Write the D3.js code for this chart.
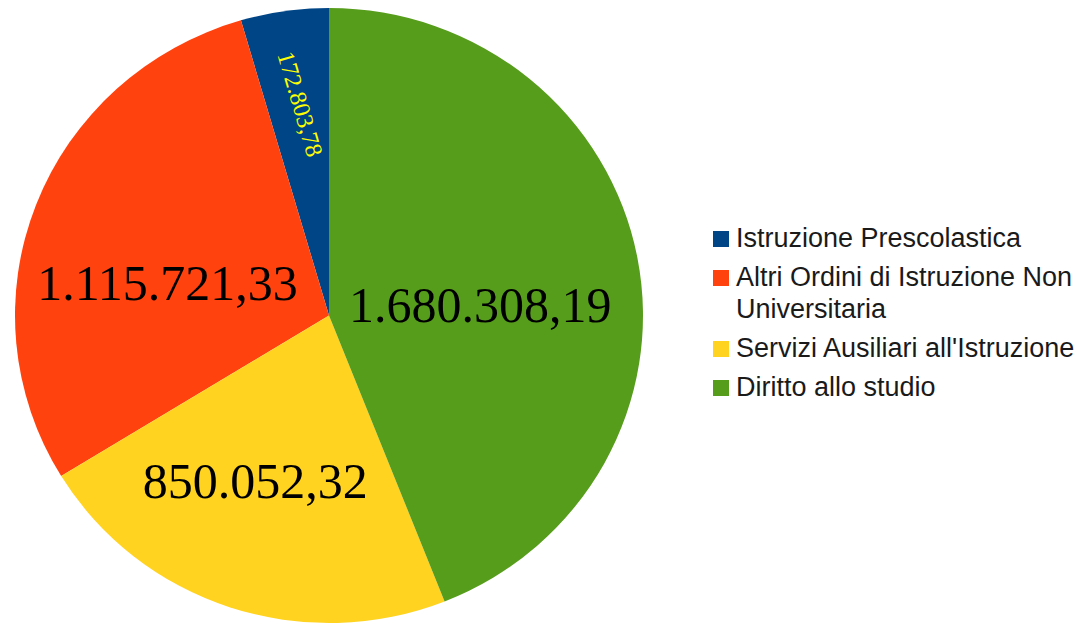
<!DOCTYPE html>
<html>
<head>
<meta charset="utf-8">
<script src="https://cdn.jsdelivr.net/npm/d3@7"></script>
<style>
  html, body { margin: 0; padding: 0; background: #fff; }
  svg { display: block; }
</style>
</head>
<body>
<div id="chart-container"></div>
<script>
const categories = [
  'Istruzione Prescolastica',
  'Altri Ordini di Istruzione Non Universitaria',
  'Servizi Ausiliari all\'Istruzione',
  'Diritto allo studio'
];
const values = [172803.78, 1115721.33, 850052.32, 1680308.19];
const colors = ['#004586', '#ff420e', '#ffd320', '#579d1c'];
// legend text as it wraps in the picture
const legendLines = [
  ['Istruzione Prescolastica'],
  ['Altri Ordini di Istruzione Non', 'Universitaria'],
  ['Servizi Ausiliari all\'Istruzione'],
  ['Diritto allo studio']
];

class PieChart {
  constructor({ containerSelector = '#chart-container' } = {}) {
    this.containerSelector = containerSelector;
    this._sizing = {
      width: 1076,
      height: 624,
      cx: 329,
      cy: 315.5,
      r: 307.5,
      sx: 314 / 307.5 // the pie is a touch wider than tall
    };
    this._styles = {
      labels: { family: '"Liberation Serif", "Times New Roman", serif', size: 50, small: 24 },
      legend: { family: '"Liberation Sans", Arial, sans-serif', size: 27, x: 713, y: 231, box: 16, gap: 39, lineHeight: 32 },
      // small shifts to match where the labels sit
      nudge: [[2, -3], [-15, 4], [-24, 1], [-3, -1]]
    };
    this.init();
    this.render();
  }

  init() {
    const fmt = d3.formatLocale({ decimal: ',', thousands: '.', grouping: [3], currency: ['', ''] }).format(',.2f');
    this._data = categories.map((name, i) => ({ name, value: values[i], color: colors[i], label: fmt(values[i]) }));
    // counter-clockwise from 12 o'clock
    this._arcs = d3.pie().sort(null).value(d => d.value).startAngle(0).endAngle(-2 * Math.PI)(this._data);

    const { width, height } = this._sizing;
    this._svg = d3.select(this.containerSelector).append('svg')
      .attr('width', width)
      .attr('height', height)
      .attr('viewBox', [0, 0, width, height]);
  }

  drawPie() {
    const { cx, cy, r, sx } = this._sizing;
    const arc = d3.arc().innerRadius(0).outerRadius(r);
    this._svg.append('g')
      .attr('transform', `translate(${cx},${cy}) scale(${sx},1)`)
      .selectAll('path')
      .data(this._arcs)
      .join('path')
        .attr('d', arc)
        .attr('fill', d => d.data.color);
  }

  drawLabels() {
    const { cx, cy, r, sx } = this._sizing;
    const { family, size, small } = this._styles.labels;
    const nudge = this._styles.nudge;
    const mid = d3.arc().innerRadius(r / 2).outerRadius(r / 2);
    const outer = d3.arc().innerRadius(r * 0.685).outerRadius(r * 0.685);
    const g = this._svg.append('g').attr('font-family', family);

    g.selectAll('text')
      .data(this._arcs)
      .join('text')
        .each(function(d, i) {
          const t = d3.select(this);
          const [nx, ny] = nudge[i];
          if (Math.abs(d.endAngle - d.startAngle) < 0.5) {
            // thin slice: text runs along the slice edge
            const [x, y] = outer.centroid(d);
            const rot = 90 + d.endAngle * 180 / Math.PI;
            t.attr('transform', `translate(${cx + x * sx + nx},${cy + y + ny}) rotate(${rot})`)
              .attr('text-anchor', 'middle')
              .attr('dy', '0.35em')
              .attr('font-size', small)
              .attr('fill', '#ffff00');
          } else {
            const [x, y] = mid.centroid(d);
            t.attr('x', cx + x * sx + nx)
              .attr('y', cy + y + ny)
              .attr('dy', '0.72em')
              .attr('text-anchor', 'middle')
              .attr('font-size', size)
              .attr('fill', '#000');
          }
        })
        .text(d => d.data.label);
  }

  drawLegend() {
    const { family, size, x, y, box, gap, lineHeight } = this._styles.legend;
    const legend = this._svg.append('g')
      .attr('font-family', family)
      .attr('font-size', size)
      .attr('fill', '#1a1a1a');

    let top = y;
    this._data.forEach((d, i) => {
      const item = legend.append('g').attr('transform', `translate(${x},${top})`);
      item.append('rect')
        .attr('width', box)
        .attr('height', box)
        .attr('fill', d.color);
      item.append('text')
        .selectAll('tspan')
        .data(legendLines[i])
        .join('tspan')
          .attr('x', box + 7)
          .attr('y', (l, j) => box + j * lineHeight)
          .text(l => l);
      top += gap + (legendLines[i].length - 1) * lineHeight;
    });
  }

  render() {
    this.drawPie();
    this.drawLabels();
    this.drawLegend();
  }
}

(function() {
  new PieChart();
})();
</script>
</body>
</html>
